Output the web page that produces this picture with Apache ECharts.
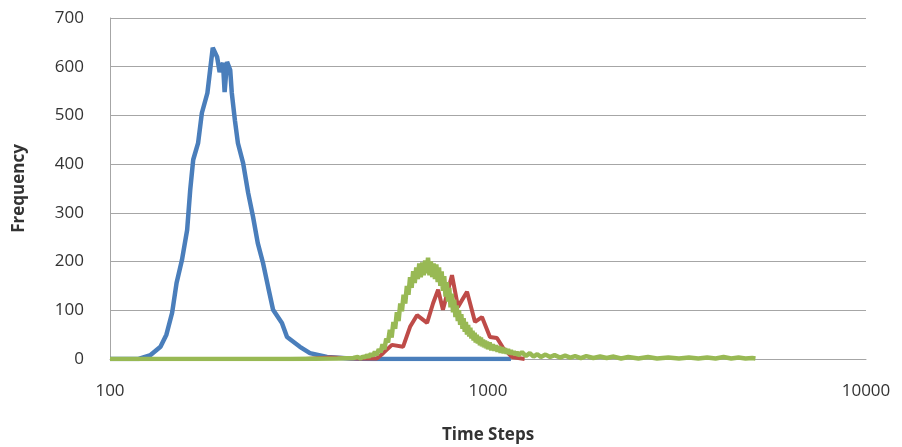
<!DOCTYPE html>
<html>
<head>
<meta charset="utf-8">
<script src="https://cdn.jsdelivr.net/npm/echarts@6/dist/echarts.min.js"></script>
<style>
  html, body { margin: 0; padding: 0; background: #fff; }
  #chart { width: 902px; height: 447px; }
</style>
</head>
<body>
<div id="chart"></div>
<script>
// values
var yTicks = [0, 100, 200, 300, 400, 500, 600, 700]
var xTicks = [100, 1000, 10000]

var blueX = [100, 110, 119, 128, 136, 141, 146, 150, 155, 160, 163, 166, 171, 175, 181, 184, 187, 192, 195, 199, 201, 204, 208, 210, 214, 218, 225, 232, 239, 246, 254, 262, 270, 285, 294, 318, 338, 375, 431, 500, 600, 800, 1000, 1150]
var blueY = [0, 0, 0, 8, 25, 50, 95, 156, 203, 265, 347, 409, 443, 505, 546, 593, 639, 620, 589, 608, 548, 610, 593, 546, 490, 443, 402, 341, 292, 238, 197, 148, 101, 74, 45, 25, 12, 4, 1, 0, 0, 0, 0, 0]

var redX = [330, 382, 450, 508, 528, 557, 596, 622, 649, 690, 716, 738, 760, 803, 833, 880, 924, 964, 1012, 1056, 1096, 1158, 1250]
var redY = [0, 3, 1, 1, 12, 29, 25, 66, 90, 74, 115, 142, 101, 172, 107, 138, 76, 86, 45, 43, 23, 4, 0]

var greenX = [100, 200, 300, 400, 440, 452, 460, 466, 472, 478, 484, 490, 496, 502, 508, 514, 520, 526, 532, 538, 544, 550, 556, 562, 568, 574, 580, 586, 592, 598, 604, 610, 616, 622, 628, 634, 640, 646, 652, 658, 664, 670, 676, 682, 688, 694, 700, 706, 712, 718, 724, 730, 736, 742, 748, 754, 760, 766, 772, 778, 784, 790, 796, 802, 808, 814, 820, 826, 832, 838, 844, 850, 856, 862, 868, 874, 880, 886, 892, 898, 904, 910, 916, 922, 928, 934, 940, 946, 952, 958, 964, 970, 976, 982, 988, 994, 1000, 1010, 1020, 1030, 1040, 1050, 1060, 1070, 1080, 1090, 1100, 1110, 1120, 1130, 1140, 1150, 1160, 1170, 1180, 1190, 1200, 1230, 1260, 1290, 1320, 1350, 1380, 1420, 1460, 1500, 1550, 1600, 1650, 1700, 1760, 1820, 1900, 1980, 2060, 2150, 2250, 2350, 2500, 2650, 2800, 3000, 3200, 3400, 3600, 3800, 4000, 4200, 4400, 4600, 4800, 5000, 5100]
var greenY = [0, 0, 0, 1, 2, 4, 1, 5, 3, 8, 4, 11, 6, 15, 8, 20, 14, 30, 20, 42, 34, 60, 44, 76, 62, 96, 78, 114, 98, 132, 114, 150, 132, 168, 146, 180, 156, 188, 164, 196, 168, 198, 172, 202, 176, 208, 172, 200, 168, 196, 164, 194, 158, 188, 150, 180, 140, 170, 128, 158, 118, 146, 106, 134, 96, 122, 86, 110, 78, 100, 70, 92, 62, 84, 56, 76, 50, 70, 46, 64, 42, 58, 38, 54, 34, 50, 32, 46, 28, 44, 26, 40, 24, 38, 22, 36, 20, 34, 18, 30, 17, 28, 15, 26, 13, 24, 12, 22, 11, 20, 10, 18, 9, 16, 8, 15, 7, 14, 6, 12, 5, 10, 4, 9, 4, 8, 3, 7, 3, 6, 2, 6, 2, 5, 2, 5, 1, 4, 1, 4, 1, 3, 1, 3, 1, 3, 1, 4, 1, 3, 1, 2, 1, 1]

function pairs (xs, ys) {
  return xs.map((x, i) => [x, ys[i]])
}

var chart = echarts.init(document.getElementById('chart'))
var font = 'Open Sans, sans-serif'

chart.setOption({
  animation: false,
  grid: { left: 110, right: 36, top: 18, bottom: 88, outerBoundsMode: 'none' },
  xAxis: {
    type: 'log',
    logBase: 10,
    min: xTicks[0],
    max: xTicks[xTicks.length - 1],
    name: 'Time Steps',
    nameLocation: 'middle',
    nameGap: 68,
    nameTextStyle: { fontFamily: font, fontWeight: 'bold', fontSize: 17, color: '#333' },
    axisLine: { show: true, lineStyle: { color: '#a6a6a6', width: 1 } },
    axisTick: { show: false },
    splitLine: { show: false },
    axisLabel: { fontFamily: font, fontSize: 17, color: '#333', margin: 24, formatter: v => String(v) }
  },
  yAxis: {
    type: 'value',
    min: yTicks[0],
    max: yTicks[yTicks.length - 1],
    interval: 100,
    name: 'Frequency',
    nameLocation: 'middle',
    nameGap: 82,
    nameTextStyle: { fontFamily: font, fontWeight: 'bold', fontSize: 17, color: '#333' },
    axisLine: { show: true, lineStyle: { color: '#a6a6a6', width: 1 } },
    axisTick: { show: false },
    splitLine: { show: true, lineStyle: { color: '#a6a6a6', width: 1 } },
    axisLabel: { fontFamily: font, fontSize: 17, color: '#333', margin: 26 }
  },
  series: [
    {
      type: 'line',
      data: pairs(blueX, blueY),
      showSymbol: false,
      lineStyle: { color: '#4a7ebb', width: 4.5 },
      itemStyle: { color: '#4a7ebb' }
    },
    {
      type: 'line',
      data: pairs(redX, redY),
      showSymbol: false,
      lineStyle: { color: '#be4b48', width: 4 },
      itemStyle: { color: '#be4b48' }
    },
    {
      type: 'line',
      data: pairs(greenX, greenY),
      showSymbol: false,
      lineStyle: { color: '#98b954', width: 4.5 },
      itemStyle: { color: '#98b954' }
    }
  ]
})
</script>
</body>
</html>
